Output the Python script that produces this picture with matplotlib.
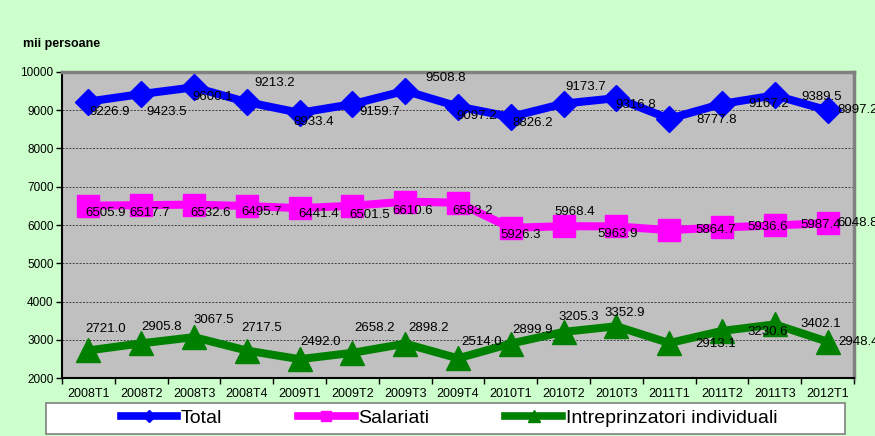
import matplotlib
matplotlib.use("Agg")
import matplotlib.pyplot as plt
from matplotlib.lines import Line2D
from matplotlib.patches import Rectangle
import numpy as np

plt.rcParams["font.family"] = ["Liberation Sans", "DejaVu Sans"]

# ── Data ──────────────────────────────────────────────────────────────────────
quarters = ["2008T1", "2008T2", "2008T3", "2008T4", "2009T1", "2009T2", "2009T3",
            "2009T4", "2010T1", "2010T2", "2010T3", "2011T1", "2011T2", "2011T3",
            "2012T1"]

total = [9226.9, 9423.5, 9600.1, 9213.2, 8933.4, 9159.7, 9508.8, 9097.2,
         8826.2, 9173.7, 9316.8, 8777.8, 9167.2, 9389.5, 8997.2]
salariati = [6505.9, 6517.7, 6532.6, 6495.7, 6441.4, 6501.5, 6610.6, 6583.2,
             5926.3, 5968.4, 5963.9, 5864.7, 5936.6, 5987.4, 6048.8]
intreprinzatori = [2721.0, 2905.8, 3067.5, 2717.5, 2492.0, 2658.2, 2898.2, 2514.0,
                   2899.9, 3205.3, 3352.9, 2913.1, 3230.6, 3402.1, 2948.4]

# label offsets (pixels, dx right / dy down) as placed in the original chart
off_total = [(21, 10), (25, 18), (19, 10), (28, -19), (14, 9), (27, 8), (40, -13),
             (19, 9), (22, 6), (22, -17), (19, 7), (47, 1), (47, 0), (47, 2), (30, 0)]
off_sal = [(17, 7), (8, 8), (17, 8), (15, 6), (19, 6), (17, 9), (7, 9), (15, 8),
           (10, 7), (11, -14), (1, 8), (46, 0), (46, 0), (46, 0), (30, 0)]
off_intr = [(17, -21), (20, -16), (20, -17), (15, -23), (21, -17), (22, -25), (23, -16),
            (24, -16), (22, -14), (15, -15), (8, -13), (46, 1), (46, 1), (46, 0), (31, 0)]

BG = "#CCFFCC"
PLOT_BG = "#C0C0C0"
C_TOTAL = "#0000FF"
C_SAL = "#FF00FF"
C_INTR = "#008000"

fig = plt.figure(figsize=(8.75, 4.36), dpi=100, facecolor=BG)
ax = fig.add_axes([62 / 875, 1 - 378 / 436, 792 / 875, 306 / 436])
ax.set_facecolor(PLOT_BG)

x = np.arange(len(quarters))

ax.plot(x, total, color=C_TOTAL, lw=5.8, marker="D", markersize=13, zorder=3)
ax.plot(x, salariati, color=C_SAL, lw=5.8, marker="s", markersize=16, zorder=3)
ax.plot(x, intreprinzatori, color=C_INTR, lw=5.8, marker="^", markersize=17, zorder=3)

for vals, offs in [(total, off_total), (salariati, off_sal), (intreprinzatori, off_intr)]:
    for xi, v, (dx, dy) in zip(x, vals, offs):
        ax.annotate(f"{v:.1f}", xy=(xi, v), xytext=(dx, -dy), textcoords="offset pixels",
                    ha="center", va="center", fontsize=9.5, color="black", zorder=4,
                    annotation_clip=False)

ax.set_xlim(-0.5, len(quarters) - 0.5)
ax.set_ylim(2000, 10000)
ax.set_yticks(np.arange(2000, 10001, 1000))
ax.tick_params(axis="y", labelsize=8.5, length=4, width=1, direction="out", pad=2)
ax.grid(True, axis="y", color="#404040", linestyle=(0, (2, 1.5)), lw=0.7)
ax.set_axisbelow(True)

# category labels centred, tick marks on boundaries
ax.set_xticks(np.arange(-0.5, len(quarters), 1.0))
ax.set_xticklabels([])
ax.tick_params(axis="x", which="major", length=4, width=1, direction="out")
ax.set_xticks(x, minor=True)
ax.set_xticklabels(quarters, minor=True, fontsize=9)
ax.tick_params(axis="x", which="minor", length=0, pad=7)

for side in ["left", "bottom"]:
    ax.spines[side].set_color("black")
    ax.spines[side].set_linewidth(1.5)
for side in ["top", "right"]:
    ax.spines[side].set_color("#808080")
    ax.spines[side].set_linewidth(2.5)

fig.text(23 / 875, 1 - 44 / 436, "mii persoane", fontsize=9, fontweight="bold",
         ha="left", va="center")

# legend box
fig.patches.append(Rectangle((46 / 875, 1 - 434 / 436), 799 / 875, 31.5 / 436,
                             transform=fig.transFigure, facecolor="white",
                             edgecolor="#808080", lw=1.2))
handles = [
    Line2D([], [], color=C_TOTAL, lw=5.5, marker="D", markersize=6),
    Line2D([], [], color=C_SAL, lw=5.5, marker="s", markersize=7),
    Line2D([], [], color=C_INTR, lw=5.5, marker="^", markersize=8),
]
fig.legend(handles, ["Total", "Salariati", "Intreprinzatori individuali"],
           loc="center", bbox_to_anchor=(449 / 875, 1 - 418 / 436), ncol=3,
           frameon=False, fontsize=14, handlelength=2.9, handletextpad=0.2,
           columnspacing=3.9, borderpad=0)

fig.savefig("out.png", dpi=100, facecolor=BG)
